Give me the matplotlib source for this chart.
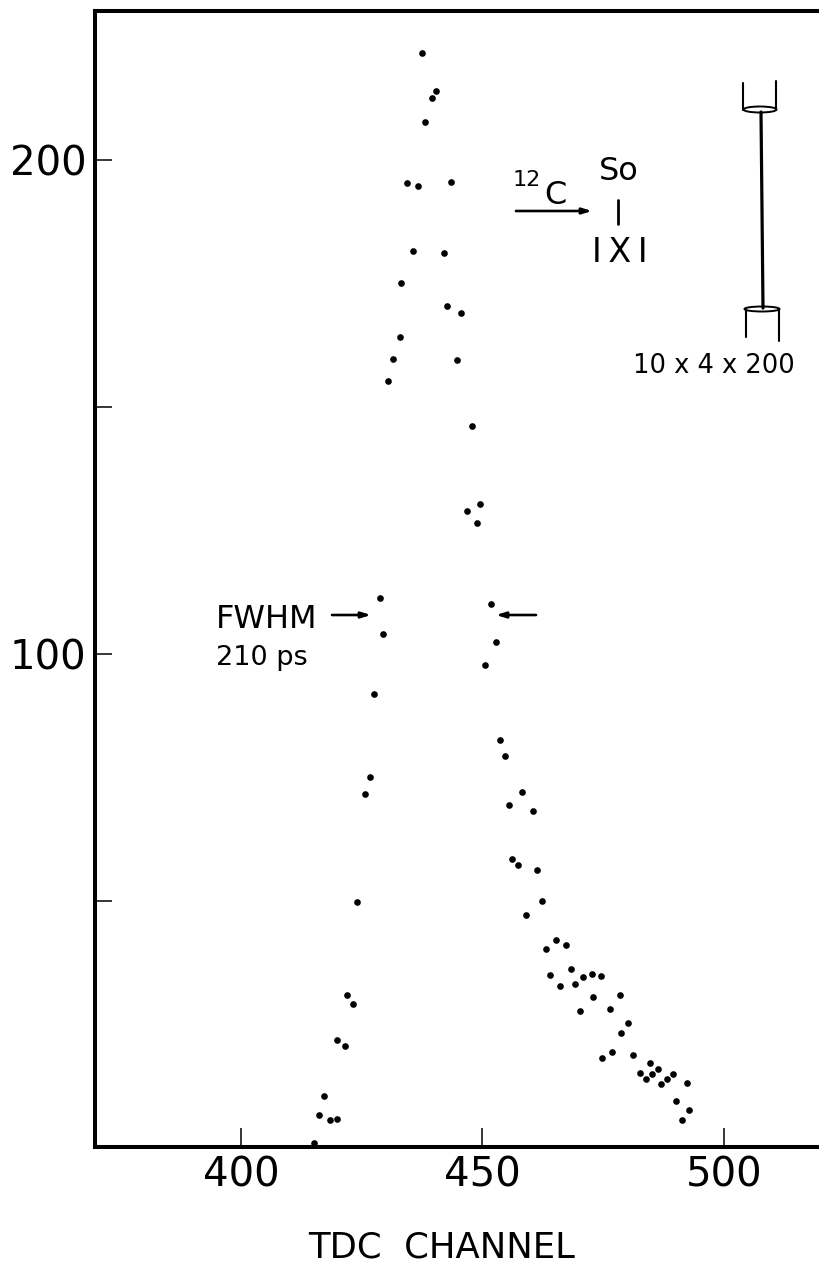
import matplotlib
matplotlib.use("Agg")
import matplotlib.pyplot as plt
from matplotlib.patches import Ellipse
from matplotlib.lines import Line2D
from matplotlib.transforms import Affine2D

W, H = 819, 1267

channels = [415.1, 416.1, 417.2, 418.4, 419.9, 419.9, 421.5, 421.9, 423.2, 424.0,
            425.7, 426.7, 427.5, 428.8, 429.4, 430.4, 431.5, 432.9, 433.1, 434.4,
            435.6, 436.6, 437.4, 438.1, 439.5, 440.5, 442.0, 442.7, 443.5, 444.7,
            445.5, 446.8, 447.8, 448.9, 449.5, 450.5, 451.8, 452.8, 453.6, 454.7,
            455.5, 456.1, 457.3, 458.2, 459.0, 460.5, 461.3, 462.3, 463.1, 464.0,
            465.2, 466.0, 467.3, 468.3, 469.2, 470.2, 470.8, 472.7, 472.9, 474.5,
            474.7, 476.4, 476.8, 478.5, 478.7, 480.1, 481.2, 482.6, 483.9, 484.7,
            485.1, 486.3, 487.0, 488.2, 489.4, 490.0, 491.3, 492.3, 492.8]
counts = [1.0, 6.7, 10.5, 5.7, 5.9, 21.9, 20.6, 31.0, 29.1, 49.8,
          71.7, 75.1, 91.9, 111.3, 104.0, 155.3, 159.7, 164.2, 175.1, 195.3,
          181.6, 194.7, 221.7, 207.7, 212.6, 214.0, 181.2, 170.4, 195.5, 159.5,
          169.0, 128.9, 146.2, 126.5, 130.4, 97.8, 110.1, 102.4, 82.6, 79.4,
          69.4, 58.5, 57.3, 72.1, 47.2, 68.2, 56.3, 50.0, 40.3, 35.0,
          42.1, 32.8, 41.1, 36.2, 33.2, 27.7, 34.6, 35.2, 30.6, 34.8,
          18.2, 28.1, 19.4, 31.0, 23.3, 25.3, 18.8, 15.2, 14.0, 17.2,
          15.0, 16.0, 13.0, 14.0, 15.0, 9.5, 5.7, 13.2, 7.7]
x_ticks = [400, 450, 500]
x_tick_labels = ["400", "450", "500"]
y_ticks = [50, 100, 150, 200]
y_tick_labels = ["", "100", "", "200"]

plt.rcParams["font.family"] = "DejaVu Sans"
fig = plt.figure(figsize=(W / 100, H / 100), dpi=100, facecolor="white")
ax = fig.add_axes([95 / W, (H - 1147) / H, (W - 95) / W, (1147 - 11) / H])
ax.set_xlim(369.8, 519.7)
ax.set_ylim(0.2, 230.2)
ax.scatter(channels, counts, s=23, color="black", linewidths=0, zorder=3, clip_on=False)

for side in ("left", "bottom", "top"):
    ax.spines[side].set_linewidth(2.9)
ax.spines["right"].set_visible(False)
ax.set_xticks(x_ticks, x_tick_labels)
ax.set_yticks(y_ticks, y_tick_labels)
ax.tick_params(axis="x", direction="in", length=14, width=1.1, labelsize=29, pad=6)
ax.tick_params(axis="y", direction="in", length=12, width=1.1, labelsize=29, pad=6)

px = Affine2D().scale(1 / W, -1 / H).translate(0, 1) + fig.transFigure


def label(x, y, s, size):
    fig.text(x, y, s, transform=px, fontsize=size, ha="center", va="center", color="black")


def stroke(xs, ys, lw=1.5):
    fig.add_artist(Line2D(xs, ys, transform=px, color="black", lw=lw, solid_capstyle="round"))


def arrow(x0, y0, x1, y1):
    ax.annotate("", xy=(x1, y1), xytext=(x0, y0), xycoords=px, textcoords=px,
                arrowprops=dict(arrowstyle="-|>,head_length=0.55,head_width=0.17",
                                color="black", lw=1.9, shrinkA=0, shrinkB=0))


label(442, 1248, "TDC  CHANNEL", 25.5)
label(267, 619, "FWHM", 23)
label(262, 658, "210 ps", 19.5)
arrow(332, 615, 371, 615)
arrow(536, 615, 496, 615)

label(527, 180, "12", 16)
label(555, 195, "C", 23)
arrow(516, 211, 592, 211)
label(619, 171, "So", 23)
stroke([618, 618], [200, 224], 2)
label(620, 252, "I\u2009X\u2009I", 24)
label(714, 366, "10 x 4 x 200", 18.5)

stroke([743, 743], [83, 110])
stroke([776, 776], [81, 110])
stroke([746, 746], [310, 337])
stroke([779, 779], [310, 341])
stroke([761, 763], [112, 308], 2.3)
for cx, cy, w, h in [(760, 109.5, 33, 6), (762, 309, 35, 5)]:
    fig.add_artist(Ellipse((cx, cy), w, h, transform=px, facecolor="white",
                           edgecolor="black", lw=1.4))

fig.savefig("out.png", dpi=100)
